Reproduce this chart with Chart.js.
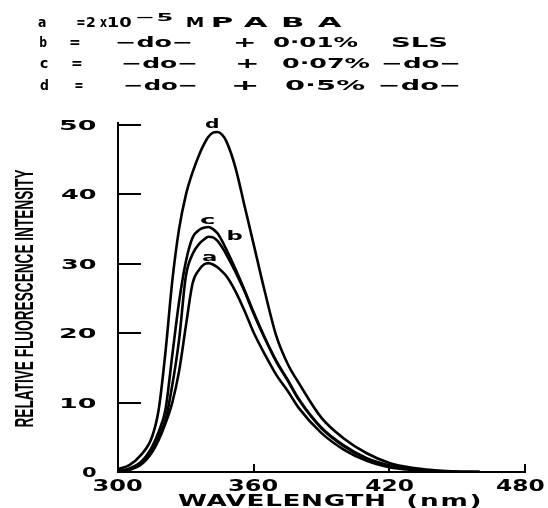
<!DOCTYPE html>
<html>
<head>
<meta charset="utf-8">
<script src="https://cdn.jsdelivr.net/npm/chart.js@4.4.1/dist/chart.umd.min.js"></script>
<style>
  html, body { margin: 0; padding: 0; background: #fff; }
  #wrap { width: 548px; height: 508px; position: relative; }
</style>
</head>
<body>
<div id="wrap"><canvas id="c" width="548" height="508"></canvas></div>
<script>
// ---------- data ----------
const wavelengths = [300,305,310,315,318,321,324,327,330,333,336,338,340,342,344,346,348,352,356,360,365,370,375,380,390,400,410,420,430,440,450,460];
const seriesA = [0.0,0.3,1.0,2.8,4.6,7.0,10.0,14.5,21.0,27.2,29.2,29.9,30.1,29.9,29.5,28.9,28.2,26.0,23.2,20.1,16.9,14.0,11.7,9.2,5.6,3.2,1.6,0.7,0.3,0.1,0,0];
const seriesB = [0.1,0.4,1.2,3.2,5.2,7.5,12.5,19.0,28.2,31.4,32.9,33.5,33.9,33.8,33.3,32.4,31.3,28.8,26.0,22.8,19.2,15.9,13.2,10.4,6.3,3.7,1.9,0.9,0.4,0.15,0,0];
const seriesC = [0.1,0.5,1.4,3.6,5.8,9.0,16.8,24.5,30.3,33.8,34.9,35.2,35.3,35.0,34.4,33.3,32.0,29.2,26.2,23.0,19.3,16.0,13.3,10.5,6.4,3.8,2.0,0.95,0.45,0.15,0,0];
const seriesD = [0.4,1.0,2.4,5.0,9.0,17.3,27.5,35.0,39.9,43.2,45.8,47.2,48.3,48.9,49.0,48.6,47.6,43.8,38.3,32.8,25.9,19.6,15.6,12.8,7.8,4.8,2.7,1.3,0.6,0.25,0.05,0];
const seriesKeys = ['a','b','c','d'];
const xTicks = [300,360,420,480];
const yTicks = [0,10,20,30,40,50];
const xTitleParts = ['WAVELENGTH','(nm)'];
const yTitle = 'RELATIVE FLUORESCENCE INTENSITY';
const legendLines = [
  ['a','=','2','x','10','\u22125','M','PABA'],
  ['b','=','\u2212do\u2212','+','0\u00b701%','SLS'],
  ['c','=','\u2212do\u2212','+','0\u00b707%','\u2212do\u2212'],
  ['d','=','\u2212do\u2212','+','0\u00b75%','\u2212do\u2212']
];

// ---------- layout (positions kept apart from data) ----------
const legendLayout = [
  {base:27, spans:[[38,46],[77,85],[87,95],[100,107],[108,132],[137,172,21,11],[187,203],[213,342]]},
  {base:47, spans:[[40,47],[70,80],[117,192],[235,255],[273,358],[393,448]]},
  {base:68, spans:[[40,48],[72,82],[123,197],[237,258],[282,370],[383,460]]},
  {base:90, spans:[[40,48],[75,83],[125,197],[233,258],[285,365],[380,460]]}
];
const curveLabelAt = {a:[340.3,31.0], b:[351.8,34.0], c:[339.4,36.3], d:[341.6,50.1]};

function fitText(ctx, text, x0, x1, base, size, maxSx, font) {
  ctx.save();
  ctx.font = 'bold ' + size + 'px ' + (font || '"DejaVu Sans"');
  ctx.letterSpacing = '0px';
  ctx.fillStyle = '#000';
  ctx.textAlign = 'left';
  ctx.textBaseline = 'alphabetic';
  const m = ctx.measureText(text);
  const ink = m.actualBoundingBoxLeft + m.actualBoundingBoxRight;
  const n = [...text].length;
  const span = x1 - x0;
  let sx, sp = 0;
  if (n === 1) {
    sx = span / ink;
  } else {
    sx = maxSx;
    const target = span / sx;
    if (target < ink) { sx = span / ink; sp = 0; }
    else sp = (target - ink) / (n - 1);
  }
  ctx.letterSpacing = sp + 'px';
  ctx.translate(x0, base);
  ctx.scale(sx, 1);
  ctx.fillText(text, m.actualBoundingBoxLeft, 0);
  ctx.restore();
}

const decor = {
  id: 'decor',
  afterDraw(chart) {
    const ctx = chart.ctx;
    const xs = chart.scales.x, ys = chart.scales.y;
    ctx.save();
    ctx.strokeStyle = '#000';
    ctx.lineWidth = 2;
    ys.ticks.forEach(t => {
      if (t.value === 0) return;
      const py = Math.round(ys.getPixelForValue(t.value));
      ctx.beginPath(); ctx.moveTo(xs.left, py); ctx.lineTo(xs.left + 23, py); ctx.stroke();
    });
    xs.ticks.forEach(t => {
      if (t.value === xs.min) return;
      const px = Math.round(xs.getPixelForValue(t.value));
      ctx.beginPath(); ctx.moveTo(px, ys.bottom); ctx.lineTo(px, ys.bottom - 8); ctx.stroke();
    });
    ctx.beginPath(); ctx.moveTo(xs.left, ys.top); ctx.lineTo(xs.left, ys.top - 3); ctx.stroke();
    ctx.restore();

    // y tick labels
    ys.ticks.forEach(t => {
      const s = String(t.value);
      const py = ys.getPixelForValue(t.value);
      const w = s.length * 15 + (s.length - 1) * 6;
      fitText(ctx, s, 97 - w, 97, py + 5, 14, 2.0);
    });
    // x tick labels
    xs.ticks.forEach(t => {
      const s = String(t.value);
      const px = xs.getPixelForValue(t.value);
      let x0 = px - 24, x1 = px + 24;
      if (x1 > 544) { x0 -= (x1 - 544); x1 = 544; }
      fitText(ctx, s, x0, x1, 491, 15, 2.0);
    });
    // x title
    fitText(ctx, xTitleParts[0], 178, 385, 506, 15, 1.75);
    fitText(ctx, xTitleParts[1], 408, 480, 506, 15, 1.75);

    // y title (condensed, rotated)
    ctx.save();
    ctx.font = 'bold 25px "Liberation Sans"';
    ctx.fillStyle = '#000';
    const tw = ctx.measureText(yTitle).width;
    const sx = 258 / tw;
    ctx.translate(33, (ys.top + ys.bottom) / 2);
    ctx.rotate(-Math.PI / 2);
    ctx.scale(sx, 1);
    ctx.textAlign = 'center';
    ctx.textBaseline = 'alphabetic';
    ctx.fillText(yTitle, 0, 0);
    ctx.restore();

    // legend lines
    legendLines.forEach((line, i) => {
      const lay = legendLayout[i];
      line.forEach((tok, j) => {
        const sp = lay.spans[j];
        const base = sp[2] !== undefined ? sp[2] : lay.base;
        const size = sp[3] !== undefined ? sp[3] : 14;
        fitText(ctx, tok, sp[0], sp[1], base, size, 2.2);
      });
    });

    // curve labels
    seriesKeys.forEach(k => {
      const [lx, ly] = curveLabelAt[k];
      const px = xs.getPixelForValue(lx), py = ys.getPixelForValue(ly);
      fitText(ctx, k, px - 7, px + 7, py + 4, 13, 1.5);
    });
  }
};

function pts(arr) { return wavelengths.map((w, i) => ({x: w, y: arr[i]})); }

new Chart(document.getElementById('c'), {
  type: 'line',
  data: {
    datasets: [
      {label: 'a', data: pts(seriesA)},
      {label: 'b', data: pts(seriesB)},
      {label: 'c', data: pts(seriesC)},
      {label: 'd', data: pts(seriesD)}
    ]
  },
  options: {
    responsive: false,
    animation: false,
    devicePixelRatio: 1,
    layout: {padding: {left: 0, right: 23, top: 125, bottom: 0}},
    plugins: {legend: {display: false}, tooltip: {enabled: false}, title: {display: false}},
    elements: {
      point: {radius: 0},
      line: {borderWidth: 2.6, borderColor: '#000', fill: false, cubicInterpolationMode: 'monotone'}
    },
    scales: {
      x: {
        type: 'linear', min: 300, max: 480,
        afterBuildTicks: s => { s.ticks = xTicks.map(v => ({value: v})); },
        ticks: {display: false},
        grid: {display: false, drawTicks: false},
        border: {display: true, color: '#000', width: 2},
        afterFit: s => { s.height = 36; }
      },
      y: {
        type: 'linear', min: 0, max: 50,
        afterBuildTicks: s => { s.ticks = yTicks.map(v => ({value: v})); },
        ticks: {display: false},
        grid: {display: false, drawTicks: false},
        border: {display: true, color: '#000', width: 2},
        afterFit: s => { s.width = 118; }
      }
    }
  },
  plugins: [decor]
});
</script>
</body>
</html>
